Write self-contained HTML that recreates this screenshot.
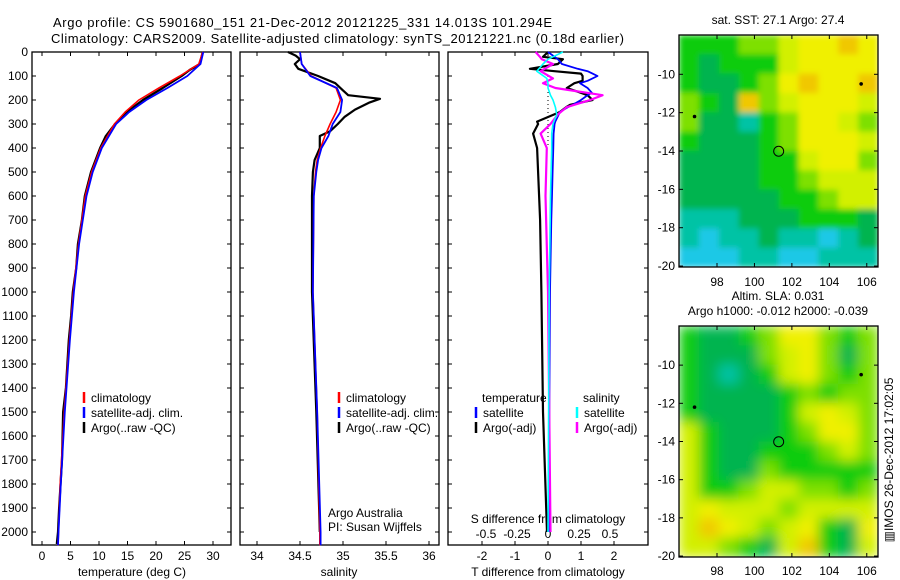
<!DOCTYPE html>
<html><head><meta charset="utf-8"><style>
body{margin:0;background:#fff;width:900px;height:580px;overflow:hidden}
svg{display:block;font-family:"Liberation Sans",sans-serif}
</style></head><body>
<svg id="c" width="900" height="580" xmlns="http://www.w3.org/2000/svg">
<defs>
<filter id="blurS" x="0" y="0" width="1" height="1"><feGaussianBlur stdDeviation="3" edgeMode="duplicate"/></filter>
<filter id="blurL" x="0" y="0" width="1" height="1"><feGaussianBlur stdDeviation="6" edgeMode="duplicate"/></filter>
</defs>
</svg>
<script>
// ---------- data ----------
const depthTicks=[0,100,200,300,400,500,600,700,800,900,1000,1100,1200,1300,1400,1500,1600,1700,1800,1900,2000];
const tempTicks=[0,5,10,15,20,25,30];
const salTicks=[34,34.5,35,35.5,36];
const salTickLabels=["34","34.5","35","35.5","36"];
const tdTicks=[-2,-1,0,1,2];
const sdTicks=[-0.5,-0.25,0,0.25,0.5];
const sdTickLabels=["-0.5","-0.25","0","0.25","0.5"];

const argoTDepth=[0,50,75,100,150,200,250,300,350,400,500,600,700,800,900,1000,1100,1200,1400,1500,1700,1900,2000,2050];
const argoTemp=[28.2,27.7,25.9,24.5,21.2,17.7,14.9,12.8,11.2,10.2,8.6,7.5,7.0,6.3,6.0,5.4,5.1,4.7,4.2,3.7,3.5,3.0,2.8,2.6];
const climTDepth=[0,50,100,150,200,250,300,400,500,600,800,1000,1200,1500,1800,2000,2055];
const climTemp=[28.2,27.5,24.2,20.5,17.0,14.6,12.7,10.3,8.7,7.6,6.4,5.5,4.8,3.9,3.2,2.9,2.8];
const satTemp=[28.3,27.8,25.5,22.0,18.3,15.3,13.0,10.5,8.9,7.8,6.5,5.6,4.9,4.0,3.3,2.9,2.8];

const argoSDepth=[0,15,30,50,70,100,130,160,180,195,210,240,270,300,330,350,400,450,500,600,1000,1500,2000];
const argoSal=[34.36,34.45,34.50,34.44,34.48,34.71,34.91,35.0,35.06,35.43,35.31,35.14,35.02,34.94,34.85,34.73,34.73,34.67,34.65,34.64,34.64,34.69,34.73];
const climSDepth=[0,50,100,150,200,250,300,350,400,450,500,600,1000,1500,2000,2055];
const climSal=[34.50,34.52,34.63,34.92,34.97,34.92,34.85,34.79,34.74,34.70,34.68,34.66,34.65,34.70,34.73,34.73];
const satSal=[34.50,34.52,34.62,34.93,34.99,34.97,34.88,34.83,34.75,34.71,34.69,34.66,34.65,34.70,34.74,34.74];

const tdDepth=[0,20,30,50,70,80,90,100,120,130,150,170,180,200,220,230,250,290,300,340,400,500,600,700,1000,1500,2000];
const satTDiff=[0,0.2,0.3,0.42,0.9,1.2,1.35,1.5,1.2,0.97,1.2,1.33,1.2,1.0,0.75,0.6,0.36,0.22,0.2,0.17,0.16,0.14,0.12,0.1,0.06,0.04,0.02];
const argoTDiff=[0,-0.15,0.45,0.3,-0.55,0.2,1.0,1.05,1.05,0.8,0.57,1.0,1.2,1.35,0.67,0.55,0.36,-0.33,-0.3,-0.45,-0.33,-0.3,-0.27,-0.24,-0.2,-0.15,-0.03];
const sdDepth=[0,20,30,50,80,110,130,150,180,200,230,260,300,340,400,600,1000,2000];
const satSDiff=[0.12,0.04,0.0,-0.04,-0.09,-0.01,0,0,0.02,0.04,0.06,0.07,0.04,0.03,0.03,0.02,0.01,0];
const argoSDiff=[-0.1,-0.065,-0.05,0.04,-0.06,0.04,-0.04,0.06,0.44,0.34,0.15,0.08,0.02,-0.06,-0.01,-0.02,0,0.02];

const mapLonTicks=[98,100,102,104,106];
const mapLatTicks=[-10,-12,-14,-16,-18,-20];
const floatLon=101.294, floatLat=-14.013;
const otherFloatsLon=[96.8,105.7];
const otherFloatsLat=[-12.2,-10.5];
const sstGrid=["GGGLLYZZOZ","GDGGGYZZZZ","GDDGLZOZZO","LGDOLYZZZY","LDDCGLZZYL","GDDDGLZZZY","DDDDGGYZZL","DDDDGGLYYY","DDDDDGGLYY","CCCDDDGGGD","CBCCDCCBCD","BBBCCBBCCC"];
const slaGrid=["GDDGLZZLGL","GDDDLYZLDL","GDCDGYZLGL","GDDDDGLGLL","GDDDDGYZYL","YGDDDGLZZL","YGDDGGGLYL","YGDDLGGGGG","YGGLYYLLGL","YZYYYLYYYY","YOZYLYZGDZ","YYLGDYOGDY"];
const palette={B:"#1ec8e6",C:"#00c3a5",D:"#00b450",G:"#10cc10",L:"#7ee000",Y:"#d2f000",Z:"#f0f000",O:"#f0c800"};

// ---------- helpers ----------
const NS="http://www.w3.org/2000/svg";
const svg=document.getElementById('c');
function el(tag,attrs,parent){const e=document.createElementNS(NS,tag);for(const k in attrs)e.setAttribute(k,attrs[k]);(parent||svg).appendChild(e);return e;}
function txt(s,x,y,anchor,size,parent){const t=el('text',{x:x,y:y,'text-anchor':anchor||'start','font-size':size||12,fill:'#000'},parent);t.textContent=s;return t;}

const TOP=52,BOT=545;
const yD=d=>TOP+d*0.24;
const xT=v=>42+v*5.7;
const xS=v=>257+(v-34)*86;
const xTD=v=>548+v*33;
const xSD=v=>548+v*124;

function panel(name,x0,x1){
  const g=el('g',{},svg);
  
  
  el('rect',{x:x0,y:TOP,width:x1-x0,height:BOT-TOP,fill:'none',stroke:'#000','stroke-width':1.3},g);
  depthTicks.forEach(d=>{el('line',{x1:x0,x2:x0+4,y1:yD(d),y2:yD(d),stroke:'#000'},g);el('line',{x1:x1-4,x2:x1,y1:yD(d),y2:yD(d),stroke:'#000'},g);});
  return g;
}
function xticks(g,ticks,labels,fx,ly){
  ticks.forEach((v,i)=>{const x=fx(v);el('line',{x1:x,x2:x,y1:TOP,y2:TOP+4,stroke:'#000'},g);el('line',{x1:x,x2:x,y1:BOT-4,y2:BOT,stroke:'#000'},g);
    const t=txt(labels[i],x,ly,'middle',12,g);});
}
function line(g,depths,vals,fx,color,w,name){
  const pts=depths.map((d,i)=>fx(vals[i]).toFixed(1)+','+yD(d).toFixed(1)).join(' ');
  const p=el('polyline',{points:pts,fill:'none',stroke:color,'stroke-width':w,'stroke-linejoin':'round'},g);
  
  
}
function legendEntry(g,x,y,color,label){
  const e=el('g',{},g);
  
  
  el('line',{x1:x,x2:x,y1:y-10,y2:y+1,stroke:color,'stroke-width':2.5},e);
  txt(label,x+7,y,'start',12,e);
}

// titles
const t1=txt("Argo profile: CS 5901680_151 21-Dec-2012 20121225_331 14.013S 101.294E",53,27,'start',13);
t1.setAttribute('textLength',499);
const t2=txt("Climatology: CARS2009. Satellite-adjusted climatology: synTS_20121221.nc (0.18d earlier)",51,43,'start',13);
t2.setAttribute('textLength',573);

// panel 1
const p1=panel('temperature-panel',32,231);
depthTicks.forEach(d=>{const t=txt(String(d),28,yD(d)+4,'end',12,p1);});
xticks(p1,tempTicks,tempTicks.map(String),xT,560);
line(p1,argoTDepth,argoTemp,xT,'#000',2.2,'argo-temperature-line');
line(p1,climTDepth,climTemp,xT,'#f00',1.6,'climatology-temperature-line');
line(p1,climTDepth,satTemp,xT,'#00f',1.8,'satellite-temperature-line');
legendEntry(p1,84,402,'#f00','climatology');
legendEntry(p1,84,417,'#00f','satellite-adj. clim.');
legendEntry(p1,84,432,'#000','Argo(..raw -QC)');
let at=txt('temperature (deg C)',132,576,'middle',12,p1);

// panel 2
const p2=panel('salinity-panel',240,439);
xticks(p2,salTicks,salTickLabels,xS,560);
line(p2,argoSDepth,argoSal,xS,'#000',2.2,'argo-salinity-line');
line(p2,climSDepth,climSal,xS,'#f00',1.6,'climatology-salinity-line');
line(p2,climSDepth,satSal,xS,'#00f',1.8,'satellite-salinity-line');
legendEntry(p2,339,402,'#f00','climatology');
legendEntry(p2,339,417,'#00f','satellite-adj. clim.');
legendEntry(p2,339,432,'#000','Argo(..raw -QC)');
txt('Argo Australia',328,517,'start',12,p2);
txt('PI: Susan Wijffels',328,531,'start',12,p2);
at=txt('salinity',339,576,'middle',12,p2);

// panel 3
const p3=panel('difference-panel',448,648);
xticks(p3,tdTicks,tdTicks.map(String),xTD,560);
sdTicks.forEach((v,i)=>{txt(sdTickLabels[i],xSD(v),538,'middle',12,p3);});
txt('S difference from climatology',548,523,'middle',12,p3);
el('line',{x1:548,x2:548,y1:yD(100),y2:yD(400),stroke:'#000','stroke-dasharray':'1,3'},p3);
line(p3,tdDepth,argoTDiff,xTD,'#000',2.2,'argo-temperature-diff-line');
line(p3,tdDepth,satTDiff,xTD,'#00f',1.8,'satellite-temperature-diff-line');
line(p3,sdDepth,argoSDiff,xSD,'#f0f',2.2,'argo-salinity-diff-line');
line(p3,sdDepth,satSDiff,xSD,'#0ff',1.6,'satellite-salinity-diff-line');
txt('temperature',482,402,'start',12,p3);
txt('salinity',583,402,'start',12,p3);
legendEntry(p3,476,417,'#00f','satellite');
legendEntry(p3,476,432,'#000','Argo(-adj)');
legendEntry(p3,577,417,'#0ff','satellite');
legendEntry(p3,577,432,'#f0f','Argo(-adj)');
at=txt('T difference from climatology',548,576,'middle',12,p3);

// maps
function map(name,grid,x0,x1,y0,y1,labelY,filt){
  const g=el('g',{},svg);
  
  
  const lon0=95.97,lon1=106.6,lat0=-7.95,lat1=-20.05;
  const mx=v=>x0+(v-lon0)/(lon1-lon0)*(x1-x0);
  const my=v=>y0+(lat0-v)/(lat0-lat1)*(y1-y0);
  const rows=grid.length,cols=grid[0].length;
  const cw=(x1-x0)/cols,ch=(y1-y0)/rows;
  const cells=el('g',{filter:'url(#'+filt+')'},g);
  grid.forEach((r,i)=>{for(let j=0;j<cols;j++){const c=el('rect',{x:x0+j*cw,y:y0+i*ch,width:cw+0.5,height:ch+0.5,fill:palette[r[j]]},cells);
    
    }});
  el('rect',{x:x0,y:y0,width:x1-x0,height:y1-y0,fill:'none',stroke:'#000','stroke-width':1.3},g);
  mapLonTicks.forEach(v=>{const x=mx(v);el('line',{x1:x,x2:x,y1:y0,y2:y0+4,stroke:'#000'},g);el('line',{x1:x,x2:x,y1:y1-4,y2:y1,stroke:'#000'},g);txt(String(v),x,labelY,'middle',12,g);});
  mapLatTicks.forEach(v=>{const y=my(v);el('line',{x1:x0,x2:x0+4,y1:y,y2:y,stroke:'#000'},g);el('line',{x1:x1-4,x2:x1,y1:y,y2:y,stroke:'#000'},g);txt(String(v),x0-4,y+4,'end',12,g);});
  const m=el('circle',{cx:mx(floatLon),cy:my(floatLat),r:5,fill:'none',stroke:'#000'},g);
  
  
  otherFloatsLon.forEach((v,i)=>{el('circle',{cx:mx(v),cy:my(otherFloatsLat[i]),r:1.8,fill:'#000'},g);});
  return g;
}
map('sst-map',sstGrid,679,878,35,267,286,'blurS');
map('sla-map',slaGrid,679,878,326,557,575,'blurL');
let mt=txt('sat. SST: 27.1 Argo: 27.4',778,24,'middle',12);
mt=txt('Altim. SLA: 0.031',778,300,'middle',12);
mt=txt('Argo h1000: -0.012 h2000: -0.039',778,315,'middle',12);
const im=txt('▥IMOS 26-Dec-2012 17:02:05',0,0,'middle',12);
im.setAttribute('transform','translate(893,460) rotate(-90)');


</script>
</body></html>
